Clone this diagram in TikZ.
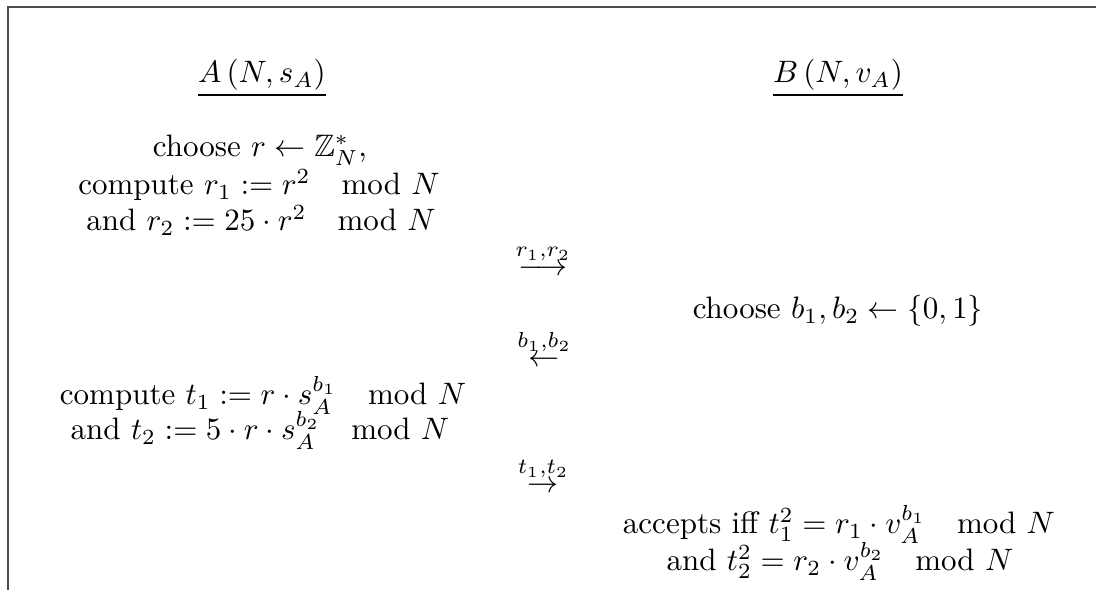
\documentclass[tikz,border=0pt]{standalone}
\usepackage{amsmath,amssymb}
\newcommand{\mymod}{\mkern18mu\mathrm{mod}\,\,N}
\begin{document}
\begin{tikzpicture}[x=0.3226pt,y=-0.3226pt,
  txt/.style={anchor=base,inner sep=0pt,outer sep=0pt},
  frame/.style={draw=black!70,line width=0.45pt}]
\useasboundingbox (0,0) rectangle (1096,590);
\coordinate (ftr) at (1096,7);
\coordinate (ftl) at (8,7);
\coordinate (fbl) at (8,590);
\draw[frame] (ftr) -- (ftl) -- (fbl);
% headers
\node[txt] (hA) at (262,83) {$\underline{A\,(N, s_A)}$};
\node[txt] (hB) at (838,83) {$\underline{B\,(N, v_A)}$};
% A's steps
\node[txt] (a1) at (260,157) {choose $r \leftarrow \mathbb{Z}_N^*$,};
\node[txt] (a2) at (259,195) {compute $r_1 := r^2 \mymod$};
\node[txt] (a3) at (261,231) {and $r_2 := 25\cdot r^2 \mymod$};
% messages and B's steps
\node[txt] (m1) at (543,276) {$\stackrel{r_1,r_2}{\longrightarrow}$};
\node[txt] (b1) at (838,319) {choose $b_1, b_2 \leftarrow \{0,1\}$};
\node[txt] (m2) at (544,367) {$\stackrel{b_1,b_2}{\leftarrow}$};
\node[txt] (a4) at (263,405) {compute $t_1 := r\cdot s_A^{b_1} \mymod$};
\node[txt] (a5) at (260,440) {and $t_2 := 5\cdot r\cdot s_A^{b_2} \mymod$};
\node[txt] (m3) at (543,493) {$\stackrel{t_1,t_2}{\rightarrow}$};
\node[txt] (b2) at (839,534) {accepts iff $t_1^2 = r_1\cdot v_A^{b_1} \mymod$};
\node[txt] (b3) at (840,571) {and $t_2^2 = r_2\cdot v_A^{b_2} \mymod$};
\end{tikzpicture}
\end{document}
